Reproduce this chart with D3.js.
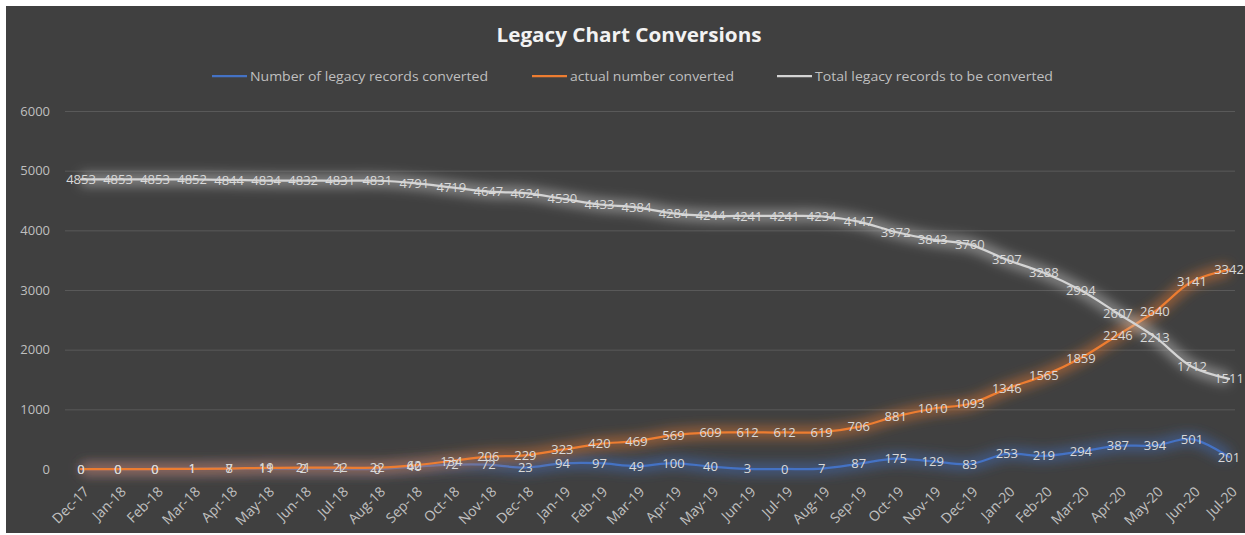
<!DOCTYPE html>
<html>
<head>
<meta charset="utf-8">
<script src="https://cdnjs.cloudflare.com/ajax/libs/d3/7.8.5/d3.min.js"></script>
<style>
  body { margin: 0; background: #ffffff; }
  svg { display: block; font-family: "Open Sans", "DejaVu Sans", sans-serif; }
</style>
</head>
<body>
<svg class="chart"></svg>
<script>
// Total dimensions
var w = 1245,
    h = 535;

// Data
var months = ["Dec-17", "Jan-18", "Feb-18", "Mar-18", "Apr-18", "May-18", "Jun-18", "Jul-18",
  "Aug-18", "Sep-18", "Oct-18", "Nov-18", "Dec-18", "Jan-19", "Feb-19", "Mar-19", "Apr-19",
  "May-19", "Jun-19", "Jul-19", "Aug-19", "Sep-19", "Oct-19", "Nov-19", "Dec-19", "Jan-20",
  "Feb-20", "Mar-20", "Apr-20", "May-20", "Jun-20", "Jul-20"];

var converted = [0, 0, 0, 1, 7, 11, 2, 1, 0, 40, 72, 72, 23, 94, 97, 49, 100, 40, 3, 0, 7, 87,
  175, 129, 83, 253, 219, 294, 387, 394, 501, 201];

var actual = [0, 0, 0, 1, 8, 19, 21, 22, 22, 62, 134, 206, 229, 323, 420, 469, 569, 609, 612,
  612, 619, 706, 881, 1010, 1093, 1346, 1565, 1859, 2246, 2640, 3141, 3342];

var remaining = [4853, 4853, 4853, 4852, 4844, 4834, 4832, 4831, 4831, 4791, 4719, 4647, 4624,
  4530, 4433, 4384, 4284, 4244, 4241, 4241, 4234, 4147, 3972, 3843, 3760, 3507, 3288, 2994,
  2607, 2213, 1712, 1511];

var yTicks = [0, 1000, 2000, 3000, 4000, 5000, 6000];

var seriesNames = ["Number of legacy records converted", "actual number converted",
  "Total legacy records to be converted"];
var seriesColors = ["#4472c4", "#ed7d31", "#d4d4d4"];

var svg = d3.select(".chart")
    .attr("width", w)
    .attr("height", h);

// dark chart area with thin white frame on the left/top
svg.append("rect")
    .attr("x", 6).attr("y", 6)
    .attr("width", w - 6).attr("height", h - 8)
    .attr("fill", "#404040");

// glow filters
var defs = svg.append("defs");
seriesColors.forEach(function(c, i) {
    var f = defs.append("filter")
        .attr("id", "glow" + i)
        .attr("x", "-10%").attr("y", "-50%")
        .attr("width", "120%").attr("height", "200%");
    f.append("feGaussianBlur")
        .attr("in", "SourceGraphic")
        .attr("stdDeviation", 6);
});

var margin = { top: 111, right: 16, bottom: 66, left: 65 },
    width = w - margin.left - margin.right,
    height = h - margin.top - margin.bottom,
    g = svg.append("g").attr("transform", "translate(" + margin.left + "," + margin.top + ")");

var xScale = d3.scalePoint()
    .domain(months)
    .range([16, width]);

var yScale = d3.scaleLinear()
    .domain([0, 6000])
    .range([height, 0]);

// gridlines
g.append("g")
    .selectAll("line")
    .data(yTicks.slice(1))
    .enter().append("line")
    .attr("x1", 0)
    .attr("x2", width + 6)
    .attr("y1", function(d) { return yScale(d) + 0.5; })
    .attr("y2", function(d) { return yScale(d) + 0.5; })
    .attr("stroke", "#595959")
    .attr("stroke-width", 1);

// y axis
var yAxis = d3.axisLeft(yScale).tickValues(yTicks).tickFormat(d3.format("d"))
    .tickSize(0).tickPadding(15);
var gy = g.append("g").attr("class", "y axis").call(yAxis);
gy.select(".domain").remove();
gy.selectAll("text")
    .attr("fill", "#bfbfbf")
    .attr("font-size", "13px")
    .attr("font-family", "\"Open Sans\", sans-serif");

// x axis
var xAxis = d3.axisBottom(xScale).tickSize(0).tickPadding(0);
var gx = g.append("g")
    .attr("class", "x axis")
    .attr("transform", "translate(0," + height + ")")
    .call(xAxis);
gx.select(".domain").remove();
gx.selectAll("text")
    .attr("fill", "#c0c0c0")
    .attr("font-size", "14px")
    .attr("font-family", "\"Open Sans\", sans-serif")
    .attr("text-anchor", "end")
    .attr("dy", "0.35em")
    .attr("transform", "translate(5,20) rotate(-45)");

// lines
var line = d3.line()
    .x(function(d, i) { return xScale(months[i]); })
    .y(function(d) { return yScale(d); })
    .curve(d3.curveCatmullRom.alpha(0.5));

var allSeries = [converted, actual, remaining];

allSeries.forEach(function(data, i) {
    var s = g.append("g").attr("class", "series s" + i);
    s.append("path")
        .datum(data)
        .attr("fill", "none")
        .attr("stroke", seriesColors[i])
        .attr("stroke-opacity", 0.5)
        .attr("stroke-width", 12)
        .attr("filter", "url(#glow" + i + ")")
        .attr("d", line);
});

allSeries.forEach(function(data, i) {
    g.select(".s" + i).append("path")
        .datum(data)
        .attr("fill", "none")
        .attr("stroke", seriesColors[i])
        .attr("stroke-linejoin", "round")
        .attr("stroke-linecap", "round")
        .attr("stroke-width", 2.25)
        .attr("d", line);
});

// data labels
allSeries.forEach(function(data, i) {
    g.append("g")
        .selectAll("text")
        .data(data)
        .enter().append("text")
        .attr("x", function(d, j) { return xScale(months[j]); })
        .attr("y", function(d) { return yScale(d); })
        .attr("dy", "0.35em")
        .attr("text-anchor", "middle")
        .attr("font-size", "13px")
        .attr("font-family", "\"Open Sans\", sans-serif")
        .attr("fill", "#d9d9d9")
        .text(function(d) { return d; });
});

// title
svg.append("text")
    .attr("x", 629)
    .attr("y", 42)
    .attr("text-anchor", "middle")
    .attr("font-size", "20px")
    .attr("font-weight", "bold")
    .attr("fill", "#f2f2f2")
    .attr("font-family", "\"Open Sans\", sans-serif")
    .attr("textLength", 265)
    .attr("lengthAdjust", "spacingAndGlyphs")
    .text("Legacy Chart Conversions");

// legend
var legendX = [212, 532, 777];
var legendLen = [238, 164, 238];
var legend = svg.append("g").attr("class", "legend");
seriesNames.forEach(function(name, i) {
    legend.append("line")
        .attr("x1", legendX[i]).attr("x2", legendX[i] + 35)
        .attr("y1", 76).attr("y2", 76)
        .attr("stroke", seriesColors[i])
        .attr("stroke-width", 2.25);
    legend.append("text")
        .attr("x", legendX[i] + 38)
        .attr("y", 76)
        .attr("dy", "0.35em")
        .attr("font-size", "13px")
        .attr("fill", "#bfbfbf")
        .attr("font-family", "\"Open Sans\", sans-serif")
        .attr("textLength", legendLen[i])
        .attr("lengthAdjust", "spacingAndGlyphs")
        .text(name);
});
</script>
</body>
</html>
